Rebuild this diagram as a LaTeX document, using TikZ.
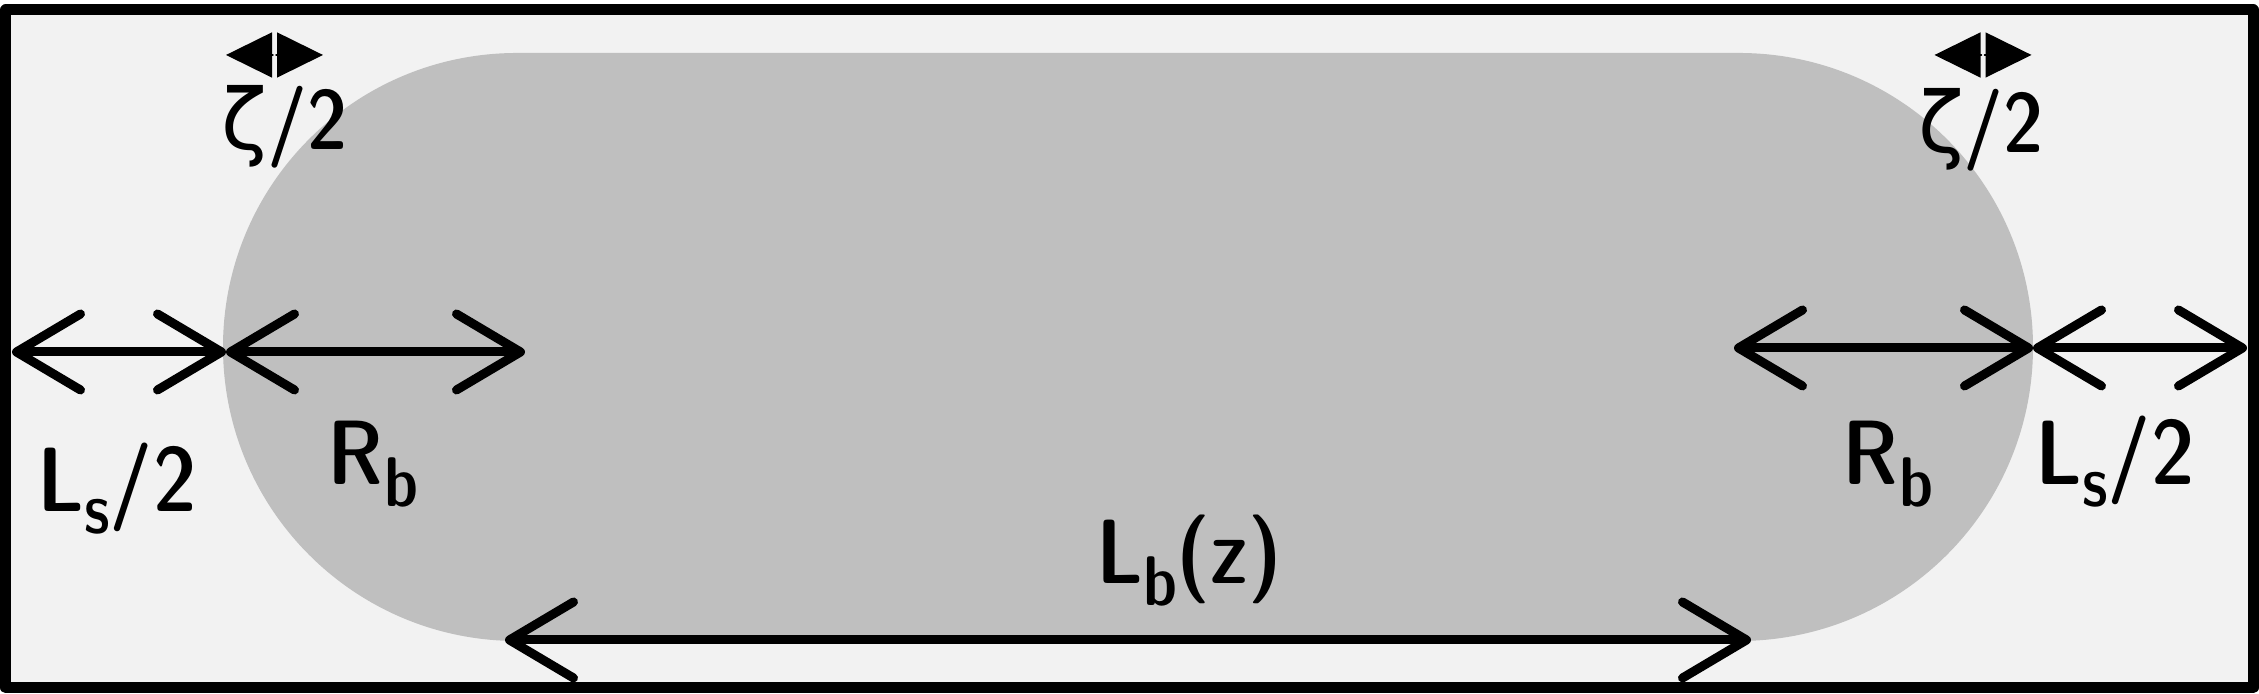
\documentclass[tikz,border=0pt]{standalone}
\usepackage{fontspec}
\newfontfamily\labelfont{lmsansdemicond10-regular.otf}
\newfontfamily\greekfont{DejaVu Sans}
\usetikzlibrary{arrows.meta}
\definecolor{bggray}{HTML}{F2F2F2}
\definecolor{bubble}{HTML}{BFBFBF}
\newcommand{\lowsub}[1]{\raisebox{-0.24em}{\fontsize{20}{22}\selectfont #1}}
\begin{document}
\begin{tikzpicture}[line join=round, line cap=round,
    dimline/.style={line width=0.09cm,
      {Straight Barb[round,length=0.64cm,width=0.76cm]}-{Straight Barb[round,length=0.64cm,width=0.76cm]}},
    halfgap/.style={-{Triangle[length=0.46cm,width=0.45cm]}, line width=0.4pt},
    lbl/.style={anchor=base, inner sep=0pt, font=\labelfont\fontsize{26}{30}\selectfont},
    zlbl/.style={anchor=base, inner sep=0pt, font=\labelfont\fontsize{24}{26}\selectfont}]
  \useasboundingbox (0,0) rectangle (22.59,6.94);
  \filldraw[fill=bggray, line width=0.11cm] (0.06,0.06) rectangle (22.53,6.84);
  \fill[bubble] (5.17,6.41) -- (17.39,6.41) arc[start angle=90, end angle=-90, radius=2.94]
    -- (5.17,0.53) arc[start angle=270, end angle=90, radius=2.94] -- cycle;

  \coordinate (wallL) at (0.12,3.42);
  \coordinate (capL) at (2.26,3.42);
  \coordinate (midL) at (5.25,3.42);
  \coordinate (midR) at (17.34,3.46);
  \coordinate (capR) at (20.33,3.46);
  \coordinate (wallR) at (22.47,3.46);
  \coordinate (lenL) at (5.05,0.54);
  \coordinate (lenR) at (17.51,0.54);

  \draw[dimline] (wallL) -- (capL);
  \draw[dimline] (capL) -- (midL);
  \draw[dimline] (midR) -- (capR);
  \draw[dimline] (capR) -- (wallR);
  \draw[dimline] (lenL) -- (lenR);

  \foreach \n/\x in {zl/2.745, zr/19.83}{
    \coordinate (\n-a) at (\x-0.015,6.39);
    \coordinate (\n-b) at (\x+0.015,6.39);
    \coordinate (\n-l) at (\x-0.485,6.39);
    \coordinate (\n-r) at (\x+0.485,6.39);
    \draw[halfgap] (\n-a) -- (\n-l);
    \draw[halfgap] (\n-b) -- (\n-r);
  }

  \node[lbl] (lsl) at (1.17,1.82) {L\lowsub{s}/2};
  \node[lbl] (rbl) at (3.73,2.09) {R\lowsub{b}};
  \node[lbl] (rbr) at (18.88,2.09) {R\lowsub{b}};
  \node[lbl] (lsr) at (21.15,2.09) {L\lowsub{s}/2};
  \node[zlbl] (zetal) at (2.85,5.44) {{\greekfont ζ}/2};
  \node[zlbl] (zetar) at (19.81,5.41) {{\greekfont ζ}/2};
  \node[lbl] (lenlbl) at (11.89,1.10) {L\lowsub{b}(z)};
\end{tikzpicture}
\end{document}
